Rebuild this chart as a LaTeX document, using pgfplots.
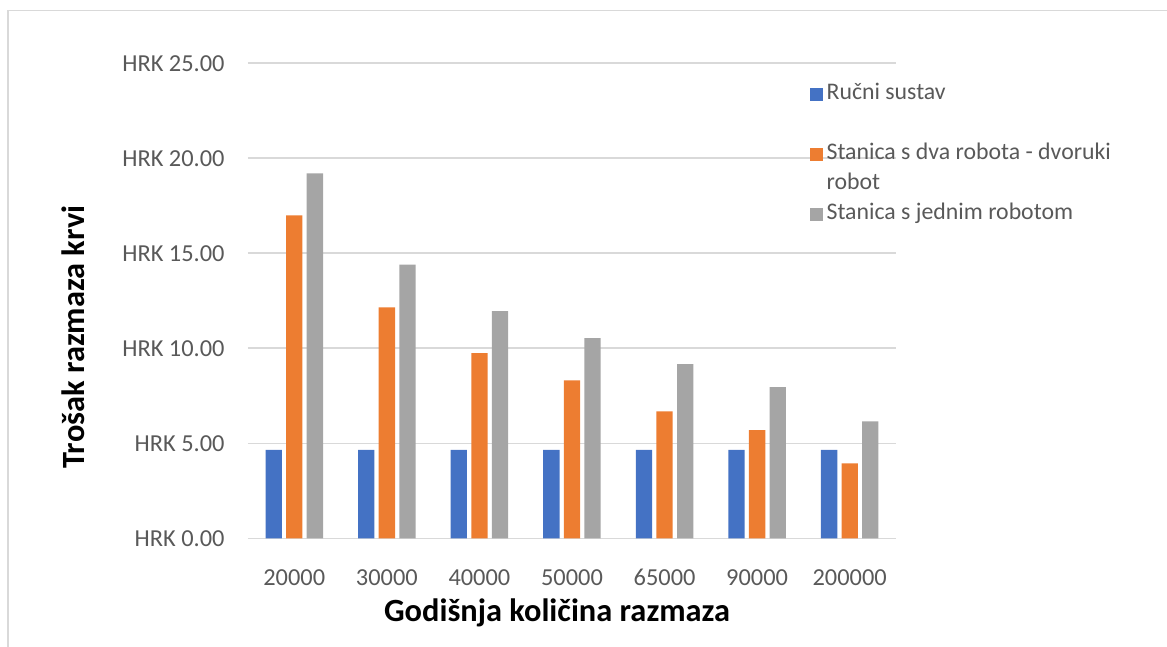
\documentclass[border=0pt]{standalone}
\usepackage{fontspec}
\setmainfont{Carlito}
\usepackage{pgfplots}
\pgfplotsset{compat=1.18}
\definecolor{cblue}{HTML}{4472C4}
\definecolor{corange}{HTML}{ED7D31}
\definecolor{cgray}{HTML}{A5A5A5}
\definecolor{gridc}{HTML}{D9D9D9}
\definecolor{txt}{HTML}{595959}
\begin{document}
\begin{tikzpicture}[x=1pt,y=1pt]
\path[use as bounding box] (-124,-54.35) rectangle (459.5,269.15);
\draw[gridc, line width=0.8pt] (-120,-54.35) -- (-120,263.9) -- (459.5,263.9);
\begin{axis}[
  scale only axis, width=324pt, height=237.5pt,
  xmin=-0.5, xmax=6.5, ymin=0, ymax=25,
  ybar=2.15pt, bar width=8.15pt,
  xtick={0,1,2,3,4,5,6},
  xticklabels={20000,30000,40000,50000,65000,90000,200000},
  ytick={0,5,10,15,20,25},
  yticklabels={HRK 0.00,HRK 5.00,HRK 10.00,HRK 15.00,HRK 20.00,HRK 25.00},
  axis line style={draw=none},
  major tick length=0pt,
  ymajorgrids, grid style={gridc, line width=0.8pt},
  tick label style={font=\fontsize{12.2}{14}\selectfont, text=txt},
  yticklabel style={inner sep=0pt, xshift=-11.5pt},
  xticklabel style={inner sep=0pt, text height=8pt, text depth=0pt, yshift=-15.4pt},
  xlabel={Godišnja količina razmaza},
  ylabel={Trošak razmaza krvi},
  xlabel style={font=\fontsize{16.2}{19}\selectfont\bfseries, at={(axis description cs:0.477,-0.156)}, anchor=center},
  ylabel style={font=\fontsize{16.2}{19}\selectfont\bfseries, at={(axis description cs:-0.270,0.424)}, anchor=center},
  legend style={draw=none, fill=none, at={(axis description cs:0.867,0.965)}, anchor=north west,
    inner sep=0pt, outer sep=0pt, row sep=0.5pt, font=\fontsize{11.9}{15}\selectfont, text=txt,
    nodes={inner sep=2pt, text height=8pt, text depth=2.5pt}},
  legend cell align=left,
  legend image code/.code={\fill[#1] (0pt,-3.2pt) rectangle (6.4pt,3.2pt);},
]
\addplot[fill=cblue, draw=none] coordinates {(0,4.65) (1,4.65) (2,4.65) (3,4.65) (4,4.65) (5,4.65) (6,4.65)};
\addlegendentry{Ručni sustav}
\addlegendimage{legend image code/.code={}}
\addlegendentry{}
\addplot[fill=corange, draw=none] coordinates {(0,17.00) (1,12.16) (2,9.75) (3,8.31) (4,6.68) (5,5.70) (6,3.95)};
\addlegendentry{Stanica s dva robota - dvoruki}
\addlegendimage{legend image code/.code={}}
\addlegendentry{robot}
\addplot[fill=cgray, draw=none] coordinates {(0,19.21) (1,14.40) (2,11.96) (3,10.53) (4,9.17) (5,7.95) (6,6.16)};
\addlegendentry{Stanica s jednim robotom}
\end{axis}
\end{tikzpicture}
\end{document}
